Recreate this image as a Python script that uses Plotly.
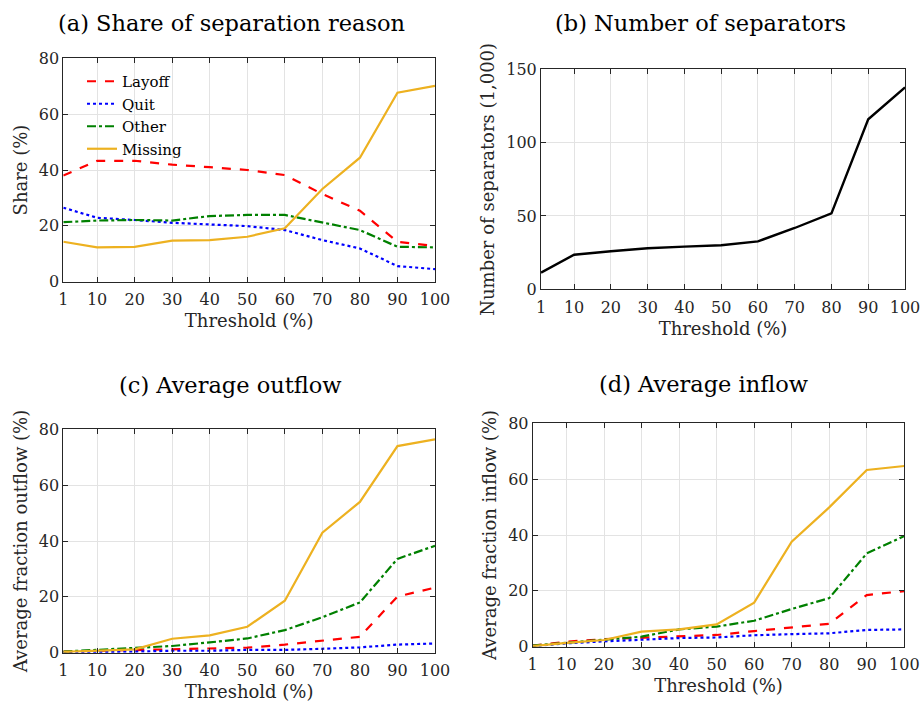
import plotly.graph_objects as go

thresholds = [1, 10, 20, 30, 40, 50, 60, 70, 80, 90, 100]

share_layoff = [38.0, 43.3, 43.3, 41.9, 41.0, 40.0, 38.2, 31.4, 25.4, 14.3, 12.8]
share_quit = [26.5, 22.9, 22.1, 21.1, 20.5, 19.9, 18.5, 14.9, 11.9, 5.6, 4.5]
share_other = [21.3, 21.9, 22.1, 21.9, 23.5, 23.9, 23.9, 21.1, 18.5, 12.5, 12.3]
share_missing = [14.3, 12.3, 12.5, 14.7, 14.9, 16.1, 19.1, 33.2, 44.4, 67.7, 70.1]

separators = [11.4, 23.6, 25.9, 28.0, 29.1, 30.0, 32.7, 41.8, 51.8, 115.9, 137.7]

out_layoff = [0.4, 0.7, 1.0, 1.4, 1.6, 1.8, 2.9, 4.3, 5.7, 20.1, 23.3]
out_quit = [0.1, 0.2, 0.4, 0.7, 0.7, 1.0, 1.0, 1.4, 1.9, 2.9, 3.3]
out_other = [0.4, 1.0, 1.6, 2.4, 3.7, 5.1, 8.1, 12.7, 18.0, 33.6, 38.3]
out_missing = [0.3, 0.7, 1.2, 5.0, 6.2, 9.3, 18.6, 43.0, 54.0, 74.0, 76.4]

in_layoff = [0.4, 1.8, 2.7, 3.2, 3.9, 4.2, 5.6, 6.8, 8.2, 18.5, 19.9]
in_quit = [0.2, 1.2, 1.9, 2.6, 3.1, 3.3, 4.1, 4.5, 4.8, 6.0, 6.2]
in_other = [0.4, 1.4, 2.4, 3.6, 6.2, 7.2, 9.3, 13.5, 17.4, 33.4, 39.6]
in_missing = [0.2, 1.4, 2.4, 5.4, 6.2, 8.0, 15.8, 37.6, 49.9, 63.3, 64.7]

series_names = ["Layoff", "Quit", "Other", "Missing"]
colors = ["#FF0000", "#0000FF", "#008000", "#EDB120"]
dashes = ["dash", "dot", "dashdot", "solid"]

titles = ["(a) Share of separation reason", "(b) Number of separators",
          "(c) Average outflow", "(d) Average inflow"]
ytitles = ["Share (%)", "Number of separators (1,000)",
           "Average fraction outflow (%)", "Average fraction inflow (%)"]
xtitle = "Threshold (%)"

FONT = "DejaVu Serif, serif"
OFF = 0  # page body margin removed via post_script
W, H = 920 - 2 * OFF, 702 - 2 * OFF


def px(x):
    return (x - OFF) / W


def py(y):
    return 1 - (y - OFF) / H


fig = go.Figure()

groups = {
    1: [share_layoff, share_quit, share_other, share_missing],
    3: [out_layoff, out_quit, out_other, out_missing],
    4: [in_layoff, in_quit, in_other, in_missing],
}

for k, data in groups.items():
    ax = "" if k == 1 else str(k)
    for i, vals in enumerate(data):
        fig.add_trace(go.Scatter(
            x=thresholds, y=vals, mode="lines", name=series_names[i],
            line=dict(color=colors[i], dash=dashes[i], width=2.2),
            xaxis="x" + ax, yaxis="y" + ax, showlegend=(k == 1),
        ))

fig.add_trace(go.Scatter(
    x=thresholds, y=separators, mode="lines", name="Separators",
    line=dict(color="black", width=2.4), xaxis="x2", yaxis="y2", showlegend=False,
))

# screen pixel boxes: left, right, top, bottom
boxes = {
    1: (63.3, 435.0, 58.3, 281.7),
    2: (541.0, 905.0, 69.3, 289.3),
    3: (63.3, 435.0, 429.3, 652.7),
    4: (532.7, 904.3, 423.3, 646.7),
}
yranges = {1: [0, 80], 2: [0, 150], 3: [0, 80], 4: [0, 80]}
ydticks = {1: 20, 2: 50, 3: 20, 4: 20}

axis_common = dict(
    showline=True, linecolor="#262626", linewidth=1, mirror="ticks",
    ticks="inside", ticklen=5, tickcolor="#262626",
    showgrid=True, gridcolor="#E3E3E3", gridwidth=1, zeroline=False,
    tickfont=dict(family=FONT, size=16, color="#262626"),
    automargin=False, ticklabeloverflow="allow",
)

layout = {}
for k, (l, r, t, b) in boxes.items():
    ax = "" if k == 1 else str(k)
    layout["xaxis" + ax] = dict(
        axis_common, domain=[px(l), px(r)], anchor="y" + ax,
        range=[1, 100], tickvals=thresholds, ticklabelstandoff=3,
        title=dict(text=xtitle, font=dict(family=FONT, size=18, color="#262626"), standoff=6),
    )
    layout["yaxis" + ax] = dict(
        axis_common, domain=[py(b), py(t)], anchor="x" + ax,
        range=yranges[k], dtick=ydticks[k],
        title=dict(text=ytitles[k - 1], font=dict(family=FONT, size=18, color="#262626"), standoff=6),
    )

title_pos = [(231, 23), (700, 23), (230, 385), (703, 384)]
annotations = []
for (x, y), txt in zip(title_pos, titles):
    annotations.append(dict(
        text=txt, x=px(x), y=py(y), xref="paper", yref="paper",
        showarrow=False, xanchor="center", yanchor="middle",
        font=dict(family=FONT, size=22.5, color="black"),
    ))

fig.update_layout(
    width=W, height=H, margin=dict(l=0, r=0, t=0, b=0),
    paper_bgcolor="white", plot_bgcolor="white",
    annotations=annotations,
    legend=dict(x=px(82), y=py(65), xanchor="left", yanchor="top",
                bgcolor="rgba(0,0,0,0)", font=dict(family=FONT, size=15, color="black"),
                itemwidth=30, tracegroupgap=0),
    **layout,
)

fig.write_html(
    "out.html",
    config={"displayModeBar": False},
    post_script="document.body.style.margin='0';document.body.style.overflow='hidden';",
)
